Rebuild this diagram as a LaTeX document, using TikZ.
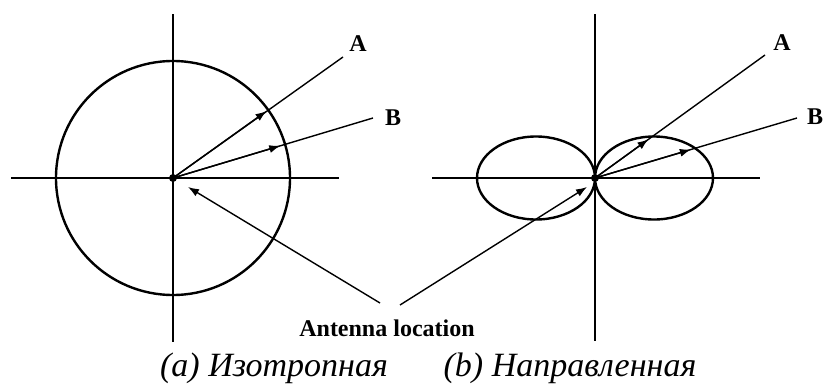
\documentclass[tikz,border=0pt]{standalone}
\usepackage{fontspec}
\setmainfont{Liberation Serif}
\usetikzlibrary{arrows.meta,calc}

\begin{document}
\begin{tikzpicture}[x=0.5pt,y=0.5pt,
    axis/.style={line width=1.2pt},
    ray/.style={line width=0.7pt},
    raytip/.style={line width=0.7pt,-{Latex[length=5.5pt,width=4pt]}},
    lbl/.style={font=\fontsize{12}{14}\selectfont\bfseries,inner sep=0pt},
    captxt/.style={font=\fontsize{17}{20}\selectfont\itshape,inner sep=0pt}]
    \useasboundingbox (0,0) rectangle (824,387);
    % Antenna centres
    \coordinate (O1) at (173,209);
    \coordinate (O2) at (595,209);
    % (a) axes and isotropic pattern
    \draw[axis] (11,209) -- (339,209);
    \draw[axis] (173,373) -- (173,45);
    \draw[axis] (O1) circle (117);
    % (b) axes and directional pattern
    \draw[axis] (432,209) -- (760,209);
    \draw[axis] (595,373) -- (595,46);
    \draw[axis] ($(O2)+(59,0)$) ellipse [x radius=59, y radius=41.5];
    \draw[axis] ($(O2)+(-59,0)$) ellipse [x radius=59, y radius=41.5];
    % Directions A and B
    \node[lbl] (A1) at (358,343) {A};
    \node[lbl] (B1) at (393,269) {B};
    \node[lbl] (A2) at (782,344) {A};
    \node[lbl] (B2) at (815,270) {B};
    \coordinate (endA1) at (343,330);
    \coordinate (endB1) at (373,269);
    \coordinate (endA2) at (765,332);
    \coordinate (endB2) at (797,269);
    \draw[ray] (O1) -- (endA1);
    \draw[ray] (O1) -- (endB1);
    \draw[ray] (O2) -- (endA2);
    \draw[ray] (O2) -- (endB2);
    \draw[raytip] (O1) -- ($(O1)+(35.6:115)$);
    \draw[raytip] (O1) -- ($(O1)+(16.7:112)$);
    \draw[raytip] (O2) -- ($(O2)+(35.9:66)$);
    \draw[raytip] (O2) -- ($(O2)+(16.5:100)$);
    % Antennas
    \fill (O1) circle (4);
    \fill (O2) circle (4);
    % Antenna location
    \node[lbl] (ant) at (387,59) {Antenna location};
    \coordinate (antL) at (380,84);
    \coordinate (antR) at (400,82);
    \draw[raytip] (antL) -- ($(O1)+(15,-9)$);
    \draw[raytip] (antR) -- ($(O2)+(-8,-9)$);
    % Captions
    \node[captxt] (capa) at (274,19) {(a) Изотропная};
    \node[captxt] (capb) at (570,19) {(b) Направленная};
\end{tikzpicture}
\end{document}
